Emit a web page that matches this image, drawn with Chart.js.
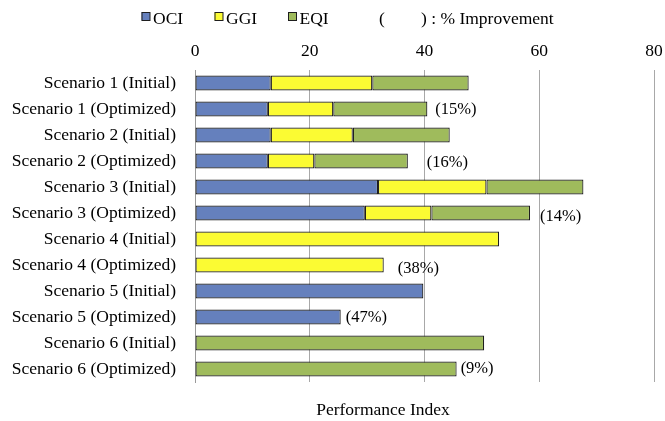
<!DOCTYPE html>
<html>
<head>
<meta charset="utf-8">
<script src="https://cdn.jsdelivr.net/npm/chart.js@4.4.1/dist/chart.umd.min.js"></script>
<style>
  html, body { margin: 0; padding: 0; background: #ffffff; }
  canvas { display: block; }
</style>
</head>
<body>
<canvas id="chart" width="665" height="421"></canvas>
<script>
// ---- data ----
const categories = [
  'Scenario 1 (Initial)', 'Scenario 1 (Optimized)',
  'Scenario 2 (Initial)', 'Scenario 2 (Optimized)',
  'Scenario 3 (Initial)', 'Scenario 3 (Optimized)',
  'Scenario 4 (Initial)', 'Scenario 4 (Optimized)',
  'Scenario 5 (Initial)', 'Scenario 5 (Optimized)',
  'Scenario 6 (Initial)', 'Scenario 6 (Optimized)'
];
const seriesNames = ['OCI', 'GGI', 'EQI'];
const oci = [13.2, 12.7, 13.2, 12.7, 31.9, 29.6, null, null, 39.8, 25.4, null, null];
const ggi = [17.7, 11.4, 14.3, 8.1, 18.9, 11.6, 53.0, 32.9, null, null, null, null];
const eqi = [16.8, 16.4, 16.9, 16.3, 16.9, 17.2, null, null, null, null, 50.4, 45.6];
const improvement = [null, 15, null, 16, null, 14, null, 38, null, 47, null, 9];
const xTicks = [0, 20, 40, 60, 80];
const axisTitle = 'Performance Index';
const improvementNote = ') : % Improvement';

// ---- styling / layout ----
const FONT = "'Liberation Serif', 'Times New Roman', serif";
const colors = ['#6580bd', '#fbfb33', '#9fbb5c'];
const edge = '#1e1e1e';
// horizontal gap (px) between a bar's end and its improvement label
const labelGap = [0, 8, 0, 19, 0, 10, 0, 14, 0, 5, 0, 4];
const labelDy = [0, 0.5, 0, 1.5, 0, 3.5, 0, 4, 0, 0.5, 0, 0];

Chart.defaults.font.family = FONT;
Chart.defaults.font.size = 17.5;
Chart.defaults.color = '#000000';

const seriesData = [oci, ggi, eqi];

// Legend row across the top
const legendPlugin = {
  id: 'topLegend',
  afterDraw(chart) {
    const ctx = chart.ctx;
    ctx.save();
    ctx.font = '17.5px ' + FONT;
    ctx.fillStyle = '#000';
    ctx.textBaseline = 'alphabetic';
    ctx.textAlign = 'left';
    const boxX = [141.5, 214.5, 288];
    seriesNames.forEach((name, i) => {
      ctx.fillStyle = colors[i];
      ctx.fillRect(boxX[i], 12, 8.5, 8.5);
      ctx.strokeStyle = edge;
      ctx.lineWidth = 1;
      ctx.strokeRect(boxX[i] + 0.5, 12.5, 8, 8);
      ctx.fillStyle = '#000';
      ctx.fillText(name, boxX[i] + 11.5, 24);
    });
    ctx.fillText('(', 379, 24);
    ctx.fillText(improvementNote, 421, 24);
    ctx.restore();
  }
};

// Improvement percentages after the optimized bars, plus the axis caption
const annotatePlugin = {
  id: 'annotate',
  afterDatasetsDraw(chart) {
    const ctx = chart.ctx;
    const xs = chart.scales.x, ys = chart.scales.y;
    ctx.save();
    ctx.font = '16.5px ' + FONT;
    ctx.fillStyle = '#000';
    ctx.textAlign = 'left';
    ctx.textBaseline = 'middle';
    improvement.forEach((v, i) => {
      if (v === null) return;
      const total = seriesData.reduce((s, arr) => s + (arr[i] || 0), 0);
      const x = xs.getPixelForValue(total) + labelGap[i];
      const y = ys.getPixelForValue(i) + labelDy[i];
      ctx.fillText('(' + v + '%)', x, y);
    });
    ctx.font = '17.5px ' + FONT;
    ctx.textAlign = 'center';
    ctx.textBaseline = 'alphabetic';
    ctx.fillText(axisTitle, 383, 415);
    ctx.restore();
  }
};

new Chart(document.getElementById('chart'), {
  type: 'bar',
  data: {
    labels: categories,
    datasets: seriesNames.map((name, i) => ({
      label: name,
      data: seriesData[i],
      backgroundColor: colors[i],
      borderColor: edge,
      borderWidth: 1.2,
      borderSkipped: false,
      barPercentage: 0.57,
      categoryPercentage: 1.0
    }))
  },
  options: {
    indexAxis: 'y',
    responsive: false,
    animation: false,
    devicePixelRatio: 1,
    layout: { padding: { left: 0, right: 11, top: 0, bottom: 39 } },
    plugins: {
      legend: { display: false },
      tooltip: { enabled: false }
    },
    scales: {
      x: {
        position: 'top',
        stacked: true,
        min: 0,
        max: 80,
        afterBuildTicks(scale) { scale.ticks = xTicks.map(v => ({ value: v })); },
        afterFit(scale) {
          scale.height = 70;
          scale.paddingLeft = 0;
          scale.paddingRight = 0;
        },
        ticks: { padding: 8, font: { size: 17.5 }, color: '#000' },
        grid: { color: '#a8a8a8', lineWidth: 1, drawTicks: false },
        border: { display: false }
      },
      y: {
        stacked: true,
        afterFit(scale) { scale.width = 195; },
        ticks: { padding: 19, font: { size: 17.5 }, color: '#000', autoSkip: false },
        grid: { display: false, drawTicks: false },
        border: { display: true, color: '#9a9a9a', width: 1 }
      }
    }
  },
  plugins: [legendPlugin, annotatePlugin]
});
</script>
</body>
</html>
